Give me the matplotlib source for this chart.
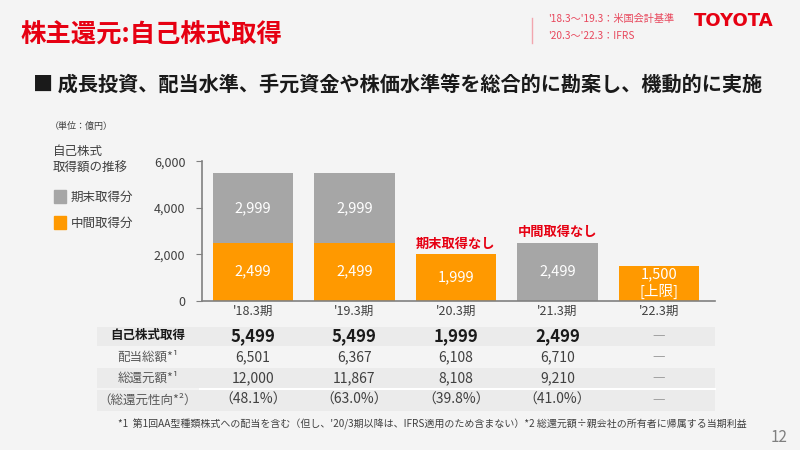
import matplotlib
matplotlib.use("Agg")
import matplotlib.pyplot as plt
from matplotlib.patches import Rectangle
from matplotlib.transforms import blended_transform_factory

plt.rcParams['font.family'] = ['Noto Sans CJK JP', 'DejaVu Sans']

# data
periods = ["'18.3期", "'19.3期", "'20.3期", "'21.3期", "'22.3期"]
interim = [2499, 2499, 1999, 0, 1500]       # 中間取得分
year_end = [2999, 2999, 0, 2499, 0]         # 期末取得分
bar_text_interim = ["2,499", "2,499", "1,999", "", "1,500\n[上限]"]
bar_text_year_end = ["2,999", "2,999", "", "2,499", ""]

row_labels = ["自己株式取得", "配当総額*¹", "総還元額*¹", "（総還元性向*²）"]
buyback = ["5,499", "5,499", "1,999", "2,499", "—"]
dividends = ["6,501", "6,367", "6,108", "6,710", "—"]
total_return = ["12,000", "11,867", "8,108", "9,210", "—"]
payout = ["（48.1%）", "（63.0%）", "（39.8%）", "（41.0%）", "—"]

orange = '#ff9900'
gray = '#a6a6a6'
red = '#e60012'
bg = '#f4f4f4'

fig = plt.figure(figsize=(8, 4.5), dpi=100, facecolor=bg)

# overlay in pixel coords for page text / table
ov = fig.add_axes([0, 0, 1, 1])
ov.set_xlim(0, 800)
ov.set_ylim(450, 0)
ov.axis('off')
ov.set_facecolor('none')

# chart axes
ax = fig.add_axes([202/800, 149.3/450, 513/800, 139.4/450])
ax.set_facecolor('none')
x = range(len(periods))
ax.bar(x, interim, width=0.79, color=orange, zorder=2)
ax.bar(x, year_end, width=0.79, bottom=interim, color=gray, zorder=2)
ax.set_xlim(-0.5, 4.55)
ax.set_ylim(0, 6000)
ax.set_yticks([0, 2000, 4000, 6000])
ax.set_yticklabels(["0", "2,000", "4,000", "6,000"])
ax.set_xticks(list(x))
ax.set_xticklabels(periods)
ax.tick_params(axis='y', length=4, color='#808080', labelsize=9, labelcolor='#404040', pad=8)
ax.tick_params(axis='x', length=0, labelsize=9, labelcolor='#404040', pad=3)
for s in ['top', 'right']:
    ax.spines[s].set_visible(False)
for s in ['left', 'bottom']:
    ax.spines[s].set_color('#808080')
    ax.spines[s].set_linewidth(1.2)

for i in x:
    if bar_text_interim[i]:
        ax.text(i, interim[i] / 2, bar_text_interim[i], ha='center', va='center',
                color='white', fontsize=10.5, linespacing=1.15)
    if bar_text_year_end[i]:
        ax.text(i, interim[i] + year_end[i] / 2, bar_text_year_end[i], ha='center', va='center',
                color='white', fontsize=10.5)

ax.text(2, 2450, "期末取得なし", ha='center', va='center', color=red, fontsize=9.5, fontweight='bold')
ax.text(3, 2950, "中間取得なし", ha='center', va='center', color=red, fontsize=9.5, fontweight='bold')

# header
ov.text(20, 35, "株主還元:自己株式取得", color=red, fontsize=18.3, fontweight='bold', va='center')
ov.plot([532, 532], [18, 43], color='#f2a6ae', lw=1)
ov.text(548, 19, "'18.3～'19.3：米国会計基準", color='#e8475c', fontsize=7.3, va='center')
ov.text(548, 36, "'20.3～'22.3：IFRS", color='#e8475c', fontsize=7.3, va='center')
ov.text(734, 21, "TOYOTA", color=red, fontsize=13, fontweight='bold', va='center', ha='center',
        family=['DejaVu Sans'])
ov.text(33, 85, "■ 成長投資、配当水準、手元資金や株価水準等を総合的に勘案し、機動的に実施",
        color='#1a1a1a', fontsize=14.5, fontweight='bold', va='center')

# legend block
ov.text(50, 126, "（単位：億円）", color='#404040', fontsize=6.5, va='center')
ov.text(53, 151, "自己株式", color='#404040', fontsize=9, va='center')
ov.text(53, 168, "取得額の推移", color='#404040', fontsize=9, va='center')
ov.add_patch(Rectangle((54, 190), 12, 13, color=gray))
ov.text(71, 197, "期末取得分", color='#404040', fontsize=9, va='center')
ov.add_patch(Rectangle((54, 216), 12, 13, color=orange))
ov.text(71, 223, "中間取得分", color='#404040', fontsize=9, va='center')

# table
ov.add_patch(Rectangle((97, 327), 618, 19, color='#ebebeb', lw=0))
ov.add_patch(Rectangle((97, 368), 618, 20, color='#ebebeb', lw=0))
ov.add_patch(Rectangle((97, 390), 618, 21, color='#ebebeb', lw=0))
ov.plot([200, 715], [389, 389], color='white', lw=1.5)

tr = blended_transform_factory(ax.transData, ov.transData)
rows = [buyback, dividends, total_return, payout]
row_y = [336, 357, 378, 400]
for r, (lab, vals, y) in enumerate(zip(row_labels, rows, row_y)):
    if r == 0:
        ov.text(148, y, lab, ha='center', va='center', color='#1a1a1a', fontsize=9, fontweight='bold')
    else:
        ov.text(148, y, lab, ha='center', va='center', color='#595959', fontsize=9)
    for i, v in enumerate(vals):
        if v == "—":
            ov.text(i, y, v, transform=tr, ha='center', va='center', color='#a0a0a0', fontsize=9,
                    family=['DejaVu Sans'])
        elif r == 0:
            ov.text(i, y, v, transform=tr, ha='center', va='center', color='#1a1a1a', fontsize=12,
                    fontweight='bold')
        else:
            ov.text(i, y, v, transform=tr, ha='center', va='center', color='#404040', fontsize=10)

ov.text(118, 424, "*1  第1回AA型種類株式への配当を含む（但し、'20/3期以降は、IFRS適用のため含まない）*2 総還元額÷親会社の所有者に帰属する当期利益",
        color='#404040', fontsize=7.2, va='center')
ov.text(787, 437, "12", color='#7f7f7f', fontsize=11, va='center', ha='right')

fig.savefig("out.png", dpi=100, facecolor=bg)
